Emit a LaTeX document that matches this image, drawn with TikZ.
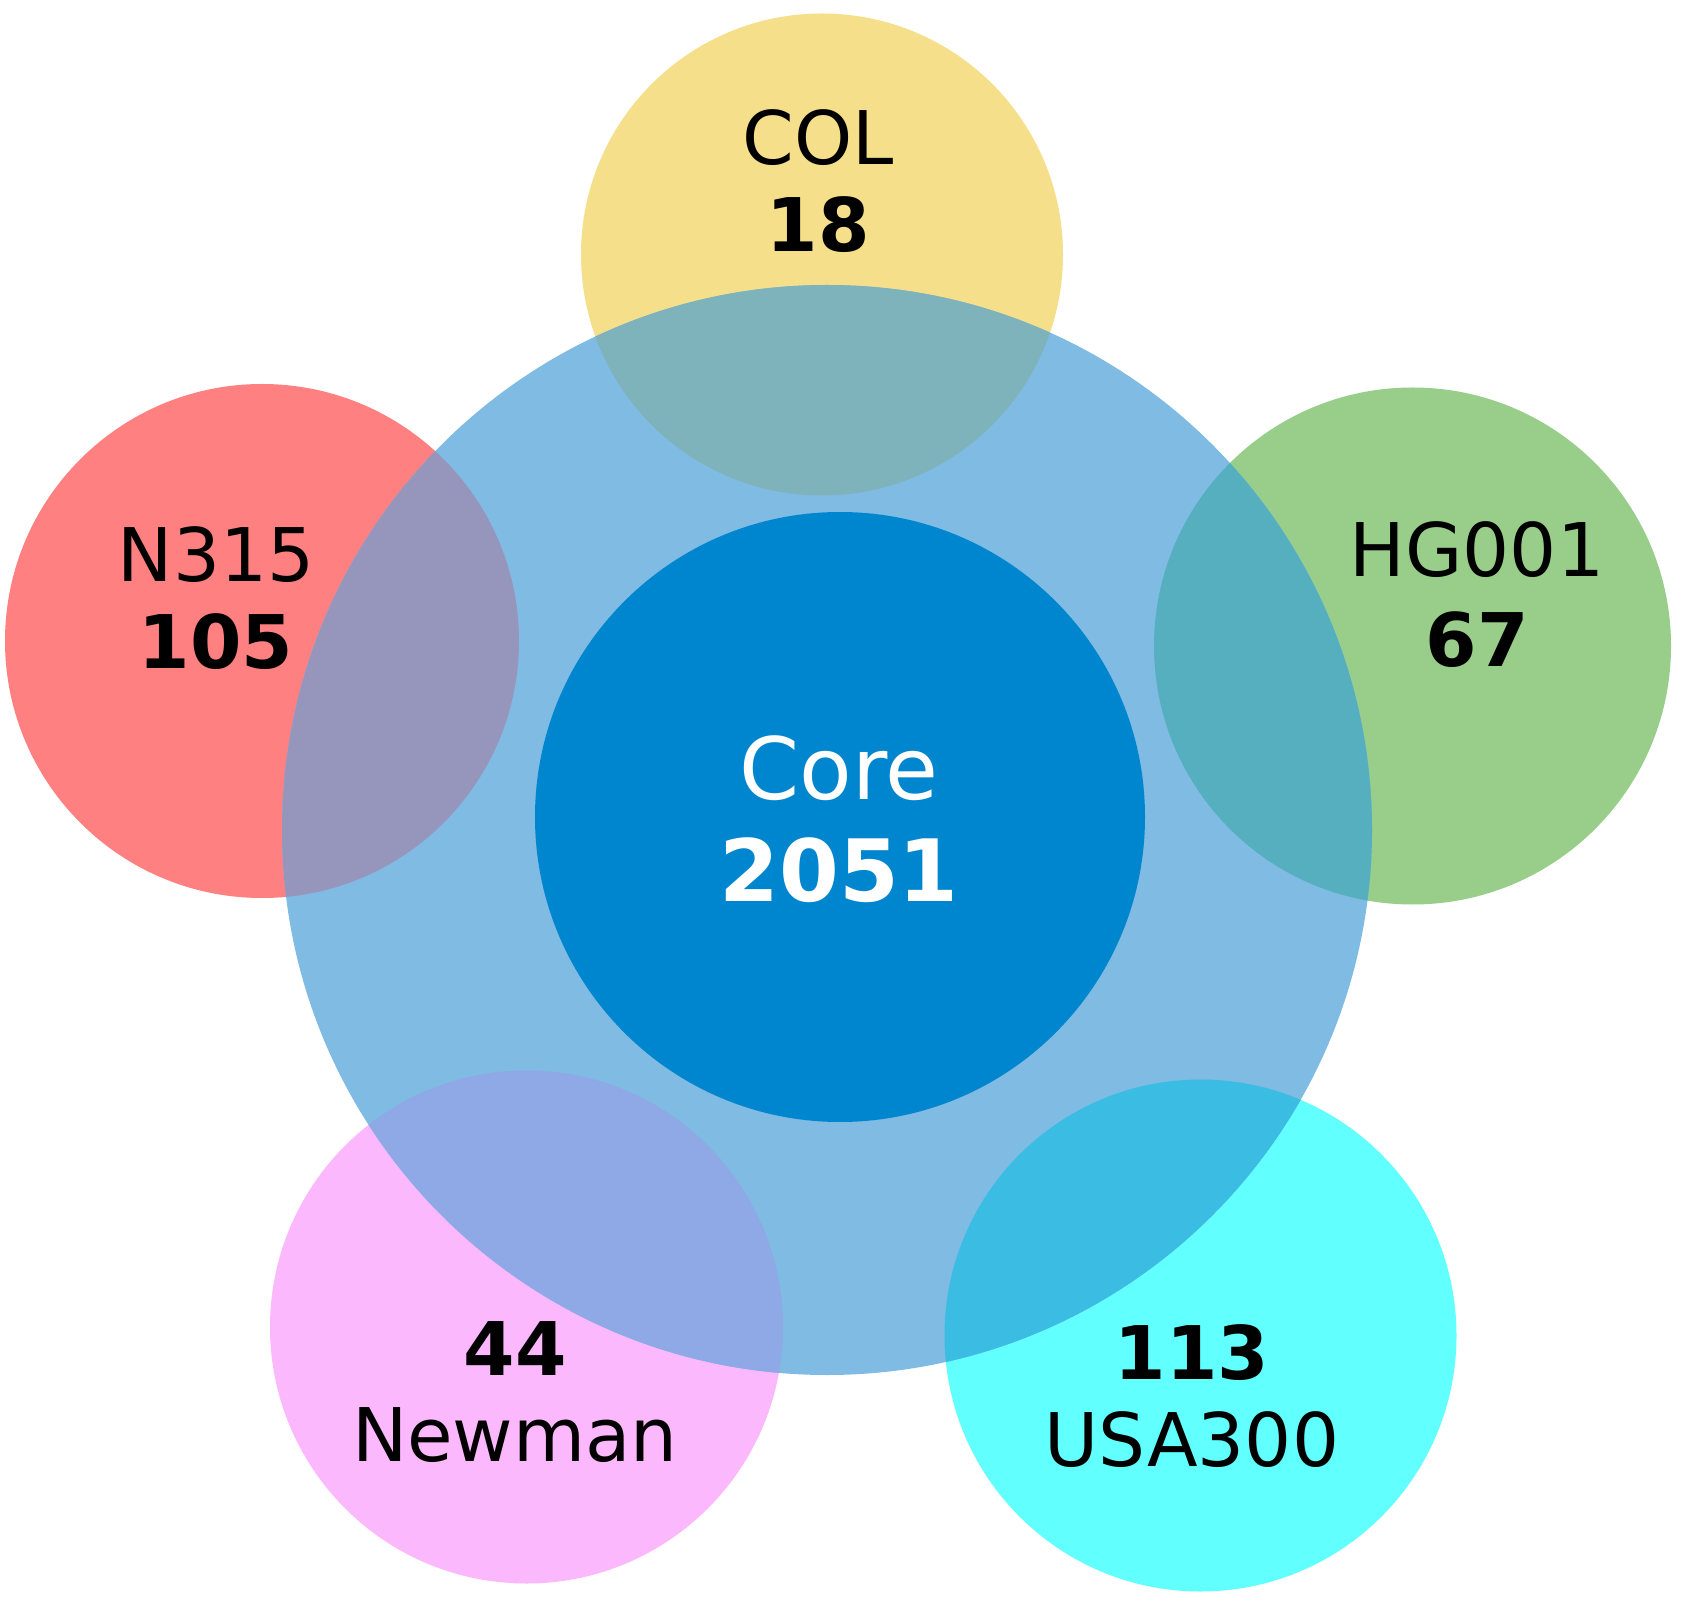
\documentclass[tikz,border=0pt]{standalone}
\usepackage{fontspec}
\setmainfont{DejaVu Sans}
\definecolor{cBig}{HTML}{80BBE4}
\definecolor{cCore}{HTML}{0086CE}
\definecolor{cCol}{HTML}{F5DF8A}
\definecolor{cN}{HTML}{FF8080}
\definecolor{cHG}{HTML}{98CE8A}
\definecolor{cNew}{HTML}{FCB8FC}
\definecolor{cUSA}{HTML}{62FFFF}
\definecolor{oCol}{HTML}{7EB3BC}
\definecolor{oN}{HTML}{9696BD}
\definecolor{oHG}{HTML}{55AFBF}
\definecolor{oNew}{HTML}{8FA8E6}
\definecolor{oUSA}{HTML}{3BBDE3}
\begin{document}
\begin{tikzpicture}[x=0.5pt,y=-0.5pt,
  disc/.style={circle,inner sep=0pt,outer sep=0pt,draw=none},
  lbl/.style={anchor=base,inner sep=0pt,outer sep=0pt,font=\fontsize{37}{42}\selectfont},
  num/.style={anchor=base,inner sep=0pt,outer sep=0pt,font=\fontsize{37}{42}\selectfont\bfseries},
  corelbl/.style={anchor=base,inner sep=0pt,outer sep=0pt,text=white,font=\fontsize{43}{48}\selectfont},
  corenum/.style={anchor=base,inner sep=0pt,outer sep=0pt,text=white,font=\fontsize{43}{48}\selectfont\bfseries}]
\useasboundingbox (0,0) rectangle (1682,1604);
\fill[white] (0,0) rectangle (1682,1604);
% outer circles
\node[disc,fill=cCol,minimum size=241pt] (col) at (822,254.5) {};
\node[disc,fill=cN,minimum size=257pt] (n315) at (262,641) {};
\node[disc,fill=cHG,minimum size=258.5pt] (hg) at (1412.5,646) {};
\node[disc,fill=cNew,minimum size=256.5pt] (newman) at (526.5,1327) {};
\node[disc,fill=cUSA,minimum size=256pt] (usa) at (1200.5,1335.5) {};
% big circle
\node[disc,fill=cBig,minimum size=545pt] (big) at (827,830) {};
% overlaps
\begin{scope}
  \clip (827,830) circle[radius=272.5pt];
  \fill[oCol] (822,254.5) circle[radius=120.5pt];
  \fill[oN] (262,641) circle[radius=128.5pt];
  \fill[oHG] (1412.5,646) circle[radius=129.25pt];
  \fill[oNew] (526.5,1327) circle[radius=128.25pt];
  \fill[oUSA] (1200.5,1335.5) circle[radius=128pt];
\end{scope}
% core
\node[disc,fill=cCore,minimum size=305pt] (core) at (840,817) {};
% labels
\node[lbl] (colname) at (818,165) {COL};
\node[num] (colnum) at (818,252) {18};
\node[lbl] (nname) at (216,582) {N315};
\node[num] (nnum) at (216,669) {105};
\node[lbl] (hgname) at (1477,577) {HG001};
\node[num] (hgnum) at (1477,667) {67};
\node[num] (newnum) at (515,1375) {44};
\node[lbl] (newname) at (515,1461) {Newman};
\node[num] (usanum) at (1192,1379) {113};
\node[lbl] (usaname) at (1192,1466) {USA300};
\node[corelbl] (corename) at (839,799) {Core};
\node[corenum] (corenum) at (839,901) {2051};
\end{tikzpicture}
\end{document}
